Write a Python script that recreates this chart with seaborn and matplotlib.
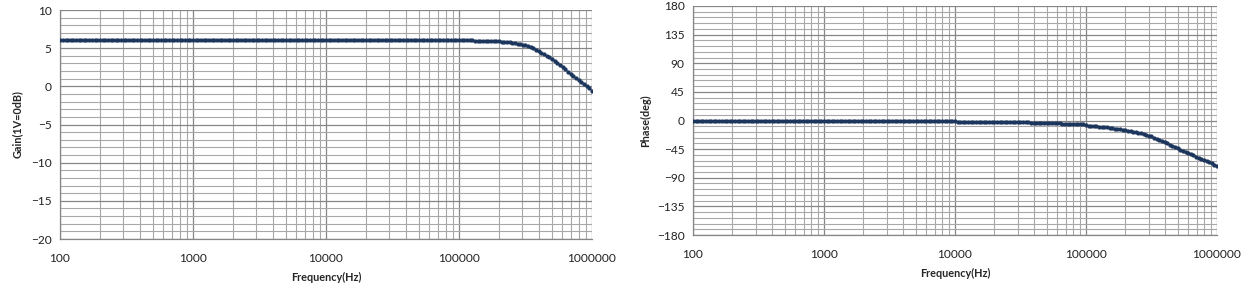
import matplotlib
matplotlib.use("Agg")
import matplotlib.pyplot as plt
from matplotlib.ticker import FixedLocator, FuncFormatter, LogLocator, NullFormatter
import seaborn as sns
import pandas as pd

# ---------------- data ----------------
freq_hz = [
    100, 105, 110, 115, 120, 126, 132, 138, 145, 151, 158, 166, 174, 182, 191, 200, 209, 219, 229, 240,
    251, 263, 275, 288, 302, 316, 331, 347, 363, 380, 398, 417, 437, 457, 479, 501, 525, 550, 575, 603,
    631, 661, 692, 724, 759, 794, 832, 871, 912, 955,
    1000, 1047, 1096, 1148, 1202, 1259, 1318, 1380, 1445, 1514, 1585, 1660, 1738, 1820, 1905, 1995, 2089, 2188, 2291, 2399,
    2512, 2630, 2754, 2884, 3020, 3162, 3311, 3467, 3631, 3802, 3981, 4169, 4365, 4571, 4786, 5012, 5248, 5495, 5754, 6026,
    6310, 6607, 6918, 7244, 7586, 7943, 8318, 8710, 9120, 9550,
    10000, 10470, 10960, 11480, 12020, 12590, 13180, 13800, 14450, 15140, 15850, 16600, 17380, 18200, 19050, 19950, 20890, 21880, 22910, 23990,
    25120, 26300, 27540, 28840, 30200, 31620, 33110, 34670, 36310, 38020, 39810, 41690, 43650, 45710, 47860, 50120, 52480, 54950, 57540, 60260,
    63100, 66070, 69180, 72440, 75860, 79430, 83180, 87100, 91200, 95500,
    100000, 104700, 109600, 114800, 120200, 125900, 131800, 138000, 144500, 151400, 158500, 166000, 173800, 182000, 190500, 199500, 208900, 218800, 229100, 239900,
    251200, 263000, 275400, 288400, 302000, 316200, 331100, 346700, 363100, 380200, 398100, 416900, 436500, 457100, 478600, 501200, 524800, 549500, 575400, 602600,
    631000, 660700, 691800, 724400, 758600, 794300, 831800, 871000, 912000, 955000,
    1000000,
]

gain_db = [6.02] * 150 + [
    6.02, 6.02, 6.02, 6.02, 6.02, 6.02, 5.96, 5.96, 5.95, 5.95,
    5.95, 5.94, 5.93, 5.93, 5.92, 5.90, 5.86, 5.84, 5.82, 5.78,
    5.74, 5.68, 5.61, 5.54, 5.45, 5.36, 5.25, 5.13, 5.00, 4.81,
    4.61, 4.41, 4.21, 4.00, 3.78, 3.56, 3.31, 3.04, 2.77, 2.50,
    2.21, 1.92, 1.62, 1.32, 1.06, 0.82, 0.56, 0.30, 0.02, -0.28,
    -0.58,
]

phase_deg = [-0.3] * 101 + [-2.0] * 28 + [-4.2] * 12 + [-6.0] * 9 + [
    -7.5, -7.9, -8.3, -8.7, -9.1, -9.5, -10.0, -10.5, -11.0, -11.5,
    -12.0, -12.6, -13.2, -13.8, -14.4, -15.0, -15.8, -16.6, -17.4, -18.2,
    -19.0, -20.1, -21.3, -22.5, -23.7, -25.0, -26.8, -28.6, -30.4, -32.2,
    -34.0, -36.0, -38.0, -40.0, -42.0, -44.0, -45.8, -47.6, -49.4, -51.2,
    -53.0, -54.8, -56.6, -58.4, -60.2, -62.0, -63.8, -65.6, -67.4, -69.2,
    -71.0,
]

x_ticks = [100, 1000, 10000, 100000, 1000000]
gain_ticks = [-20, -15, -10, -5, 0, 5, 10]
phase_ticks = [-180, -135, -90, -45, 0, 45, 90, 135, 180]

df = pd.DataFrame({"freq": freq_hz, "gain": gain_db, "phase": phase_deg})

# ---------------- style ----------------
sns.set_style("white")
plt.rcParams["font.family"] = ["Lato", "DejaVu Sans"]

fig = plt.figure(figsize=(12.51, 2.92), dpi=100)
ax1 = fig.add_axes([60 / 1251, 1 - 239 / 292, 532 / 1251, 229 / 292])
ax2 = fig.add_axes([693 / 1251, 1 - 235 / 292, 524 / 1251, 229 / 292])

MAJ = "#868686"
MIN = "#a8a8a8"
LINE = "#5b82b8"
MARK = "#1b355c"


def style_axes(ax, yticks, yminor_step, ylabel, ylabel_pad):
    ax.set_xscale("log")
    ax.set_xlim(x_ticks[0], x_ticks[-1])
    ax.set_ylim(yticks[0], yticks[-1])
    ax.xaxis.set_major_locator(FixedLocator(x_ticks))
    ax.xaxis.set_minor_locator(LogLocator(base=10, subs=range(2, 10), numticks=20))
    ax.xaxis.set_major_formatter(FuncFormatter(lambda v, p: f"{int(round(v))}"))
    ax.xaxis.set_minor_formatter(NullFormatter())
    ax.yaxis.set_major_locator(FixedLocator(yticks))
    minor = []
    v = yticks[0]
    while v <= yticks[-1] + 1e-9:
        minor.append(v)
        v += yminor_step
    ax.yaxis.set_minor_locator(FixedLocator(minor))
    ax.grid(which="major", color=MAJ, linewidth=0.9)
    ax.grid(which="minor", color=MIN, linewidth=0.8)
    ax.set_axisbelow(True)
    for s in ["top", "right"]:
        ax.spines[s].set_visible(False)
    for s in ["left", "bottom"]:
        ax.spines[s].set_color(MAJ)
        ax.spines[s].set_linewidth(0.9)
    ax.tick_params(which="major", axis="both", direction="out", length=4, width=0.9,
                   color=MAJ, labelsize=8.6, labelcolor="#222222", pad=2)
    ax.tick_params(which="major", axis="x", pad=6)
    ax.tick_params(which="minor", length=0)
    ax.set_xlabel("Frequency(Hz)", fontsize=7.8, fontweight="bold", labelpad=6)
    ax.set_ylabel(ylabel, fontsize=7.8, fontweight="bold", labelpad=ylabel_pad)


for ax, col in [(ax1, "gain"), (ax2, "phase")]:
    sns.lineplot(data=df, x="freq", y=col, ax=ax, color=LINE, linewidth=1.0,
                 marker="o", markersize=2.8, markerfacecolor=MARK, markeredgecolor=MARK,
                 markeredgewidth=0.2, zorder=3)

style_axes(ax1, gain_ticks, 1, "Gain(1V=0dB)", 6)
style_axes(ax2, phase_ticks, 9, "Phase(deg)", 4)

fig.savefig("out.png", dpi=100, facecolor="white")
